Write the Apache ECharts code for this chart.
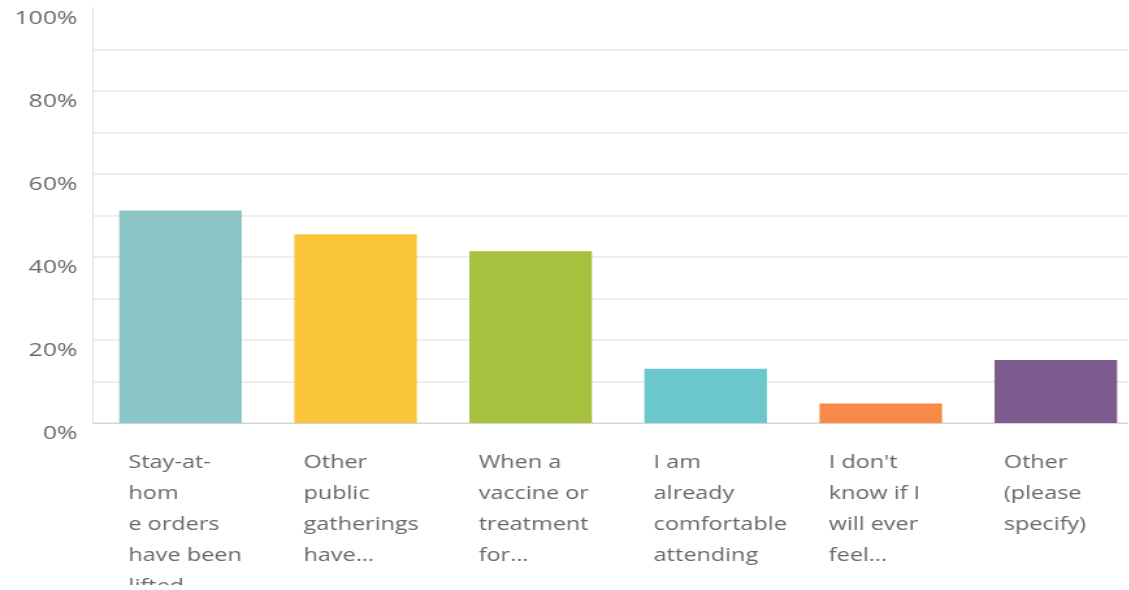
<!DOCTYPE html>
<html>
<head>
<meta charset="utf-8">
<script src="https://cdn.jsdelivr.net/npm/echarts@6/dist/echarts.min.js"></script>
<style>
html,body{margin:0;padding:0;background:#fff;overflow:hidden;}
#wrap{width:1129px;height:585px;overflow:hidden;}
#chart{width:868px;height:590px;transform:scaleX(1.3);transform-origin:0 0;}
</style>
</head>
<body>
<div id="wrap"><div id="chart"></div></div>
<script>
var categories = [
  "Stay-at-\nhom\ne orders\nhave been\nlifted",
  "Other\npublic\ngatherings\nhave...",
  "When a\nvaccine or\ntreatment\nfor...",
  "I am\nalready\ncomfortable\nattending",
  "I don't\nknow if I\nwill ever\nfeel...",
  "Other\n(please\nspecify)"
];
var values = [51.2, 45.5, 41.4, 13.1, 4.7, 15.2];
var colors = ["#8cc5c6", "#fac53b", "#a6c13e", "#6bc7cb", "#f88a47", "#7c5b8f"];
var yTicks = [0, 20, 40, 60, 80, 100];

var chart = echarts.init(document.getElementById('chart'), null, {renderer: 'canvas'});
chart.setOption({
  animation: false,
  grid: {left: 71.5, top: 8, width: 808, bottom: 167, containLabel: false, outerBoundsMode: 'none'},
  xAxis: {
    type: 'category',
    data: categories,
    axisLine: {show: true, lineStyle: {color: '#d4d4d4', width: 1}},
    axisTick: {show: false},
    axisLabel: {
      interval: 0,
      margin: 24,
      align: 'center',
      verticalAlign: 'top',
      hideOverlap: false,
      formatter: function (v) {
        return v.split('\n').map(function (l) { return '{a|' + l + '}'; }).join('\n');
      },
      rich: {
        a: {width: 80, align: 'left', fontSize: 18, lineHeight: 31, color: '#686868', fontFamily: 'Open Sans'}
      }
    }
  },
  yAxis: {
    type: 'value',
    min: 0,
    max: 100,
    interval: 10,
    axisLine: {show: true, lineStyle: {color: '#e0e0e0'}},
    axisTick: {show: false},
    splitLine: {show: true, showMaxLine: false, lineStyle: {color: '#e8e8e8', width: 1.5}},
    axisLabel: {
      margin: 12,
      fontSize: 19,
      color: '#686868',
      fontFamily: 'Open Sans',
      verticalAlign: 'top',
      lineHeight: 22,
      formatter: function (v) { return yTicks.indexOf(v) >= 0 ? v + '%' : ''; }
    }
  },
  series: [{
    type: 'bar',
    barCategoryGap: '30%',
    data: values.map(function (v, i) { return {value: v, itemStyle: {color: colors[i]}}; })
  }]
});
</script>
</body>
</html>
